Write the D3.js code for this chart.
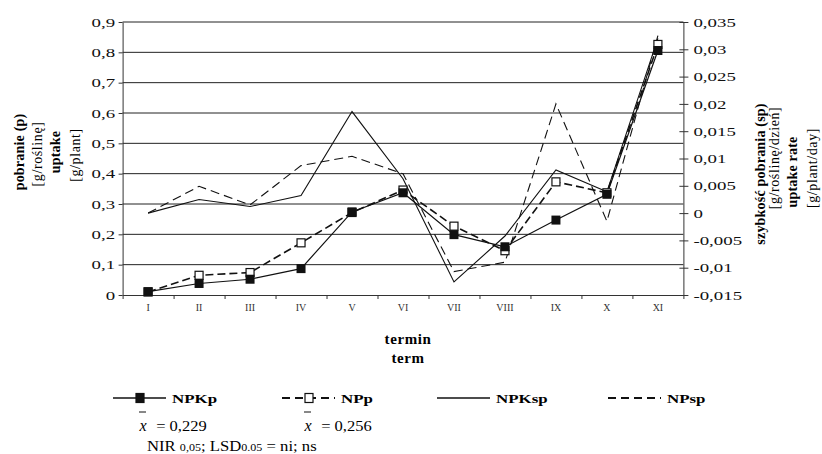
<!DOCTYPE html>
<html>
<head>
<meta charset="utf-8">
<script src="https://cdn.jsdelivr.net/npm/d3@7"></script>
<style>
  body { margin: 0; background: #fff; }
  svg, svg text { font-family: "Liberation Serif", "Times New Roman", serif; }
</style>
</head>
<body>
<div id="chart"></div>
<script>
//##### uptake chart: two left series (p), two right series (sp) #####

var terms = ["I", "II", "III", "IV", "V", "VI", "VII", "VIII", "IX", "X", "XI"];

// pobranie (p) [g/roslinę] - left axis
var npkP = [0.011, 0.038, 0.052, 0.087, 0.274, 0.337, 0.199, 0.159, 0.247, 0.332, 0.806];
var npP = [0.010, 0.065, 0.074, 0.172, 0.272, 0.346, 0.227, 0.146, 0.373, 0.337, 0.826];

// szybkość pobrania (sp) [g/roślinę/dzień] - right axis
var npkSp = [0.0, 0.0025, 0.0012, 0.0032, 0.0186, 0.0063, -0.0126, -0.0042, 0.0079, 0.0039, 0.0320];
var npSp = [0.0, 0.0049, 0.0015, 0.0087, 0.0104, 0.0072, -0.0107, -0.0090, 0.0200, -0.0015, 0.0325];

var leftTicks = [0, 0.1, 0.2, 0.3, 0.4, 0.5, 0.6, 0.7, 0.8, 0.9];
var rightTicks = [-0.015, -0.01, -0.005, 0, 0.005, 0.01, 0.015, 0.02, 0.025, 0.03, 0.035];

var seriesNames = ["NPKp", "NPp", "NPKsp", "NPsp"];
var means = ["0,229", "0,256"];

var width = 822,
  height = 454,
  plotLeft = 122.6,
  plotRight = 683.4,
  plotTop = 22,
  plotBottom = 295;

// comma as decimal sign
function fmt(d) {
  return (+d.toFixed(3)).toString().replace(".", ",");
}

var svg = d3
  .select("#chart")
  .append("svg")
  .attr("width", width)
  .attr("height", height);

var x = d3.scaleBand().domain(terms).range([plotLeft, plotRight]);
var xEdge = d3.scaleLinear().domain([0, terms.length]).range([plotLeft, plotRight]);
var yL = d3.scaleLinear().domain([0, 0.9]).range([plotBottom, plotTop]);
var yR = d3.scaleLinear().domain([-0.015, 0.035]).range([plotBottom, plotTop]);

function cx(d, i) {
  return x(terms[i]) + x.bandwidth() / 2;
}

//grid lines
svg
  .append("g")
  .selectAll("line")
  .data(leftTicks.slice(1))
  .enter()
  .append("line")
  .attr("x1", plotLeft)
  .attr("x2", plotRight)
  .attr("y1", function(d) { return yL(d); })
  .attr("y2", function(d) { return yL(d); })
  .attr("stroke", "#222")
  .attr("stroke-width", 1);

//left axis
var gL = svg
  .append("g")
  .attr("transform", "translate(" + plotLeft + ",0)")
  .call(d3.axisLeft(yL).tickValues(leftTicks).tickFormat(fmt).tickSize(4).tickSizeOuter(0));
gL.selectAll("text")
  .attr("x", null)
  .attr("transform", "translate(-7.5,0) scale(1.45,1)");

//right axis, ticks cross the line
var gR = svg
  .append("g")
  .attr("transform", "translate(" + plotRight + ",0)")
  .call(d3.axisRight(yR).tickValues(rightTicks).tickFormat(fmt).tickSize(5).tickSizeOuter(0));
gR.selectAll(".tick line").attr("x1", -4);
gR.selectAll("text")
  .attr("x", null)
  .attr("transform", "translate(10,0) scale(1.45,1)");

//bottom axis: ticks between terms, labels centred
var gE = svg
  .append("g")
  .attr("transform", "translate(0," + plotBottom + ")")
  .call(d3.axisBottom(xEdge).tickValues(d3.range(terms.length + 1)).tickFormat("").tickSize(4).tickSizeOuter(0));
var gX = svg
  .append("g")
  .attr("transform", "translate(0," + plotBottom + ")")
  .call(d3.axisBottom(x).tickSize(0).tickPadding(9));
gX.select(".domain").remove();
gX.selectAll("text").attr("font-size", 10).attr("fill", "#333");

[gL, gR, gE, gX].forEach(function(g) {
  g.attr("font-family", null);
});
svg.selectAll(".domain").attr("stroke", "#333");
svg.selectAll(".tick line").attr("stroke", "#333");
gL.selectAll("text").attr("font-size", 13).attr("fill", "#111");
gR.selectAll("text").attr("font-size", 13).attr("fill", "#111");

//lines
var lineL = d3.line().x(cx).y(function(d) { return yL(d); });
var lineR = d3.line().x(cx).y(function(d) { return yR(d); });

svg.append("path").datum(npkSp).attr("d", lineR)
  .attr("fill", "none").attr("stroke", "#111").attr("stroke-width", 1.1);
svg.append("path").datum(npSp).attr("d", lineR)
  .attr("fill", "none").attr("stroke", "#111").attr("stroke-width", 1.1)
  .attr("stroke-dasharray", "9,5");
svg.append("path").datum(npP).attr("d", lineL)
  .attr("fill", "none").attr("stroke", "#111").attr("stroke-width", 1.6)
  .attr("stroke-dasharray", "8,4");
svg.append("path").datum(npkP).attr("d", lineL)
  .attr("fill", "none").attr("stroke", "#111").attr("stroke-width", 1.2);

//markers
svg.append("g").selectAll("rect").data(npP).enter().append("rect")
  .attr("x", function(d, i) { return cx(d, i) - 4; })
  .attr("y", function(d) { return yL(d) - 4; })
  .attr("width", 8).attr("height", 8)
  .attr("fill", "#fff").attr("stroke", "#111").attr("stroke-width", 1.2);
svg.append("g").selectAll("rect").data(npkP).enter().append("rect")
  .attr("x", function(d, i) { return cx(d, i) - 4.5; })
  .attr("y", function(d) { return yL(d) - 4.5; })
  .attr("width", 9).attr("height", 9)
  .attr("fill", "#111");

//axis titles
svg.append("text").attr("x", 408).attr("y", 344).attr("text-anchor", "middle")
  .attr("font-size", 15).attr("font-weight", "bold").attr("letter-spacing", 0.6).text("termin");
svg.append("text").attr("x", 408).attr("y", 363).attr("text-anchor", "middle")
  .attr("font-size", 15).attr("font-weight", "bold").attr("letter-spacing", 0.6).text("term");

function vtitle(tx, ty, txt, bold) {
  svg.append("text")
    .attr("transform", "translate(" + tx + "," + ty + ") rotate(-90)")
    .attr("text-anchor", "middle")
    .attr("dominant-baseline", "central")
    .attr("font-size", 14)
    .attr("font-weight", bold ? "bold" : "normal")
    .attr("letter-spacing", bold ? 0.2 : 0.6)
    .text(txt);
}
vtitle(19, 152, "pobranie (p)", true);
vtitle(37, 154, "[g/roślinę]", false);
vtitle(55, 152, "uptake", true);
vtitle(75, 155, "[g/plant]", false);
vtitle(760, 174, "szybkość pobrania (sp)", true);
vtitle(774, 158, "[g/roślinę/dzień]", false);
vtitle(792, 172, "uptake rate", true);
vtitle(812, 168, "[g/plant/day]", false);

//legend
var legendX = [113, 282, 437, 608];
var legendY = 398;
var lg = svg.append("g").selectAll("g").data(seriesNames).enter().append("g")
  .attr("transform", function(d, i) { return "translate(" + legendX[i] + "," + legendY + ")"; });
lg.append("line")
  .attr("x1", 0).attr("x2", 53).attr("y1", 0).attr("y2", 0)
  .attr("stroke", "#111")
  .attr("stroke-width", function(d, i) { return i % 2 ? 2 : 1.4; })
  .attr("stroke-dasharray", function(d, i) { return i % 2 ? "8,5" : null; });
lg.filter(function(d, i) { return i < 2; })
  .append("rect")
  .attr("x", 23).attr("y", -4.5).attr("width", 8).attr("height", 9)
  .attr("fill", function(d, i) { return i ? "#fff" : "#111"; })
  .attr("stroke", "#111").attr("stroke-width", 1.2);
lg.append("text")
  .attr("transform", "translate(59,4.5) scale(1.3,1)")
  .attr("font-size", 13).attr("font-weight", "bold")
  .text(function(d) { return d; });

//means
var meanX = [143, 308];
var mg = svg.append("g").selectAll("g").data(means).enter().append("g")
  .attr("transform", function(d, i) { return "translate(" + meanX[i] + ",431)"; });
mg.append("line").attr("x1", -4).attr("x2", 3).attr("y1", -19).attr("y2", -19)
  .attr("stroke", "#111").attr("stroke-width", 1);
mg.append("text").attr("text-anchor", "middle").attr("font-size", 16)
  .attr("font-style", "italic").text("x");
mg.append("text").attr("x", 12).attr("font-size", 15)
  .attr("transform", "scale(1.1,1)")
  .text(function(d) { return "= " + d; });

//NIR note
var nir = svg.append("text")
  .attr("transform", "translate(147,451) scale(1.15,1)")
  .attr("font-size", 14.5);
nir.append("tspan").text("NIR ");
nir.append("tspan").attr("font-size", 10.5).text("0,05");
nir.append("tspan").text("; LSD");
nir.append("tspan").attr("font-size", 10.5).text("0.05");
nir.append("tspan").text(" = ni; ns");
</script>
</body>
</html>
